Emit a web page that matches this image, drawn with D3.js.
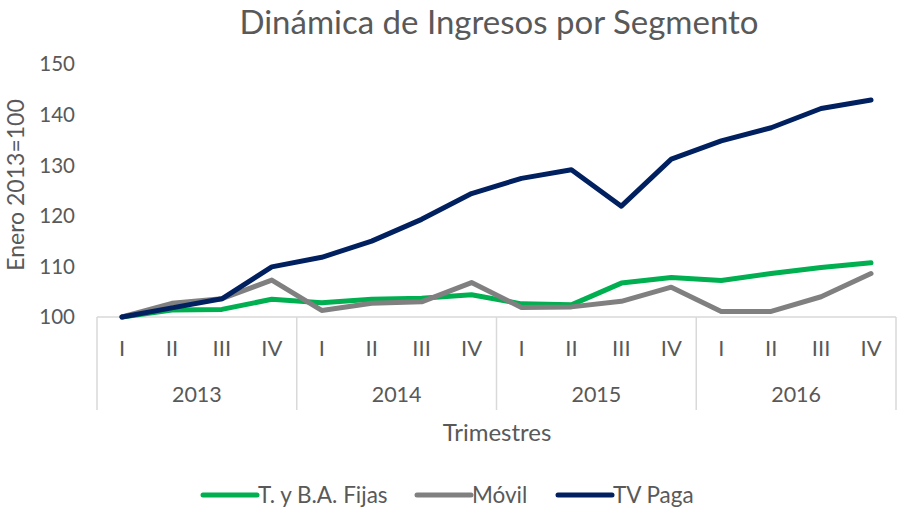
<!DOCTYPE html>
<html>
<head>
<meta charset="utf-8">
<script src="https://cdn.jsdelivr.net/npm/d3@7"></script>
<style>
    body { margin: 0; background: #fff; }
    text { font-family: Lato, "Open Sans", sans-serif; fill: #595959; }
</style>
</head>
<body>
<div id="chart"></div>
<script>
// datos
const years = ["2013", "2014", "2015", "2016"];
const quarters = ["I", "II", "III", "IV"];
const fijas = [100, 101.4, 101.5, 103.5, 102.8, 103.5, 103.7, 104.4, 102.6, 102.4, 106.7, 107.8, 107.2, 108.6, 109.8, 110.7];
const movil = [100, 102.7, 103.6, 107.3, 101.3, 102.7, 103.0, 106.8, 101.9, 102.0, 103.1, 105.9, 101.1, 101.1, 104.0, 108.6];
const tvPaga = [100, 101.8, 103.6, 109.9, 111.8, 115.0, 119.3, 124.4, 127.4, 129.1, 121.9, 131.2, 134.8, 137.4, 141.2, 142.9];
const yTicks = [100, 110, 120, 130, 140, 150];

const series = [
    {name: "T. y B.A. Fijas", values: fijas, color: "#00b050"},
    {name: "Móvil", values: movil, color: "#808080"},
    {name: "TV Paga", values: tvPaga, color: "#002060"}
];

const W = 899, H = 514;
const margin = {top: 64, right: 3, bottom: 197, left: 97};
const width = W - margin.left - margin.right;
const height = H - margin.top - margin.bottom;

const svg = d3.select("#chart").append("svg")
    .attr("width", W)
    .attr("height", H);

svg.append("text")
    .attr("x", 499)
    .attr("y", 34)
    .attr("text-anchor", "middle")
    .style("font-size", "33px")
    .text("Dinámica de Ingresos por Segmento");

const g = svg.append("g")
    .attr("transform", `translate(${margin.left},${margin.top})`);

const labels = [];
years.forEach(yr => quarters.forEach(q => labels.push(yr + "-" + q)));

const x = d3.scaleBand().domain(labels).range([0, width]);
const xYear = d3.scaleBand().domain(years).range([0, width]);
const y = d3.scaleLinear().domain([100, 150]).range([height, 0]);

// eje y (sin linea)
yTicks.forEach(t => {
    g.append("text")
        .attr("x", -22)
        .attr("y", y(t))
        .attr("dy", "0.36em")
        .attr("text-anchor", "end")
        .style("font-size", "20.5px")
        .text(t);
});

svg.append("text")
    .attr("transform", "translate(24,185) rotate(-90)")
    .attr("text-anchor", "middle")
    .style("font-size", "23px")
    .text("Enero 2013=100");

// eje de categorias
g.append("line")
    .attr("x1", 0).attr("x2", width)
    .attr("y1", height).attr("y2", height)
    .attr("stroke", "#d9d9d9").attr("stroke-width", 1.5);

years.concat(["end"]).forEach((yr, i) => {
    const xx = i < years.length ? xYear(yr) : width;
    g.append("line")
        .attr("x1", xx).attr("x2", xx)
        .attr("y1", height).attr("y2", height + 93)
        .attr("stroke", "#d9d9d9").attr("stroke-width", 1.5);
});

labels.forEach(l => {
    g.append("text")
        .attr("x", x(l) + x.bandwidth() / 2)
        .attr("y", height + 39)
        .attr("text-anchor", "middle")
        .style("font-size", "22px")
        .text(l.split("-")[1]);
});

years.forEach(yr => {
    g.append("text")
        .attr("x", xYear(yr) + xYear.bandwidth() / 2)
        .attr("y", height + 85)
        .attr("text-anchor", "middle")
        .style("font-size", "21.5px")
        .text(yr);
});

svg.append("text")
    .attr("x", 497)
    .attr("y", 441)
    .attr("text-anchor", "middle")
    .style("font-size", "24px")
    .text("Trimestres");

// lineas
const line = d3.line()
    .x((d, i) => x(labels[i]) + x.bandwidth() / 2)
    .y(d => y(d));

series.forEach(s => {
    g.append("path")
        .datum(s.values)
        .attr("d", line)
        .attr("fill", "none")
        .attr("stroke", s.color)
        .attr("stroke-width", 5)
        .attr("stroke-linejoin", "round")
        .attr("stroke-linecap", "round");
});

// leyenda
const legendX = [203, 417, 558];
series.forEach((s, i) => {
    const lg = svg.append("g").attr("transform", `translate(${legendX[i]},495)`);
    lg.append("line")
        .attr("x1", 0).attr("x2", 54)
        .attr("stroke", s.color)
        .attr("stroke-width", 5)
        .attr("stroke-linecap", "round");
    lg.append("text")
        .attr("x", 55)
        .attr("dy", "0.36em")
        .style("font-size", "22.5px")
        .text(s.name);
});
</script>
</body>
</html>
